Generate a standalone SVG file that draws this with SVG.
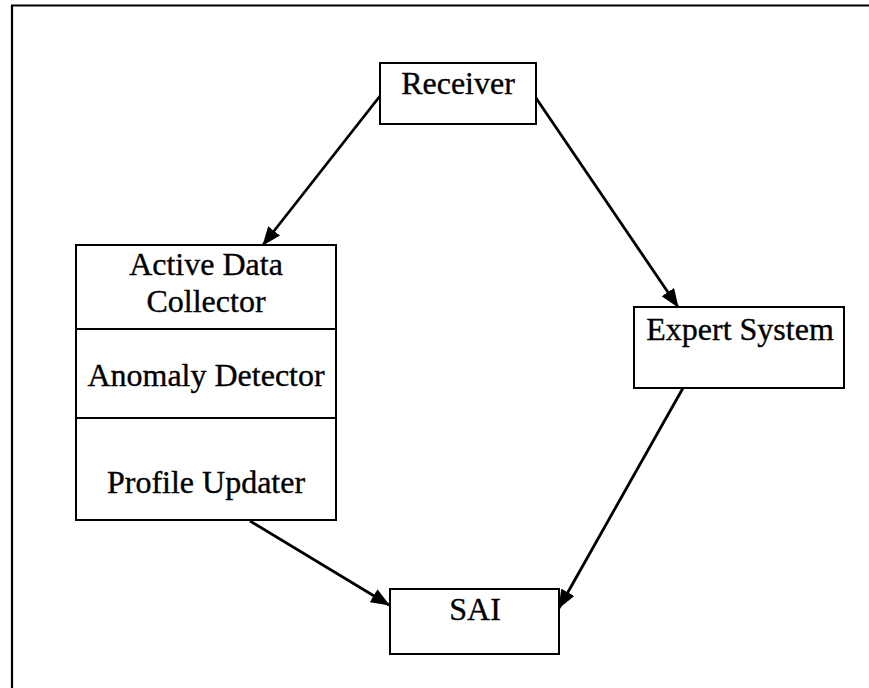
<svg xmlns="http://www.w3.org/2000/svg" width="869" height="688" viewBox="0 0 869 688">
<style>
.box{fill:#fff;stroke:#000;stroke-width:2}
.t{font-family:"Liberation Serif","Times New Roman",serif;font-size:32px;fill:#000;stroke:#000;stroke-width:0.35;text-anchor:middle}
.c{stroke:#000;stroke-width:2.8;fill:none}
</style>
<defs>
<marker id="ah" markerUnits="userSpaceOnUse" markerWidth="19" markerHeight="15" refX="18" refY="7.5" orient="auto">
<path d="M0,0 L19,7.5 L0,15 z" fill="#000"/>
</marker>
</defs>
<rect width="869" height="688" fill="#fff"/>
<g id="frame">
<line x1="11" y1="5.5" x2="869" y2="5.5" stroke="#000" stroke-width="2"/>
<line x1="12" y1="5" x2="12" y2="688" stroke="#000" stroke-width="2.2"/>
</g>
<g id="connectors">
<line class="c" x1="380" y1="96" x2="263" y2="245" marker-end="url(#ah)"/>
<line class="c" x1="536" y1="98" x2="678" y2="307" marker-end="url(#ah)"/>
<line class="c" x1="250" y1="521" x2="389" y2="605" marker-end="url(#ah)"/>
<line class="c" x1="683" y1="388" x2="559" y2="608" marker-end="url(#ah)"/>
</g>
<g id="receiver">
<rect class="box" x="380" y="63" width="156" height="61"/>
<text class="t" x="458" y="94">Receiver</text>
</g>
<g id="adc">
<rect class="box" x="76" y="245" width="260" height="275"/>
<line x1="76" y1="329" x2="336" y2="329" stroke="#000" stroke-width="2"/>
<line x1="76" y1="418" x2="336" y2="418" stroke="#000" stroke-width="2"/>
<text class="t" x="206" y="275">Active Data</text>
<text class="t" x="206" y="312">Collector</text>
<text class="t" x="206" y="386">Anomaly Detector</text>
<text class="t" x="206" y="493">Profile Updater</text>
</g>
<g id="expert">
<rect class="box" x="634" y="307" width="210" height="81"/>
<text class="t" x="740" y="340">Expert System</text>
</g>
<g id="sai">
<rect class="box" x="390" y="589" width="169" height="65"/>
<text class="t" x="475" y="620">SAI</text>
</g>
</svg>
